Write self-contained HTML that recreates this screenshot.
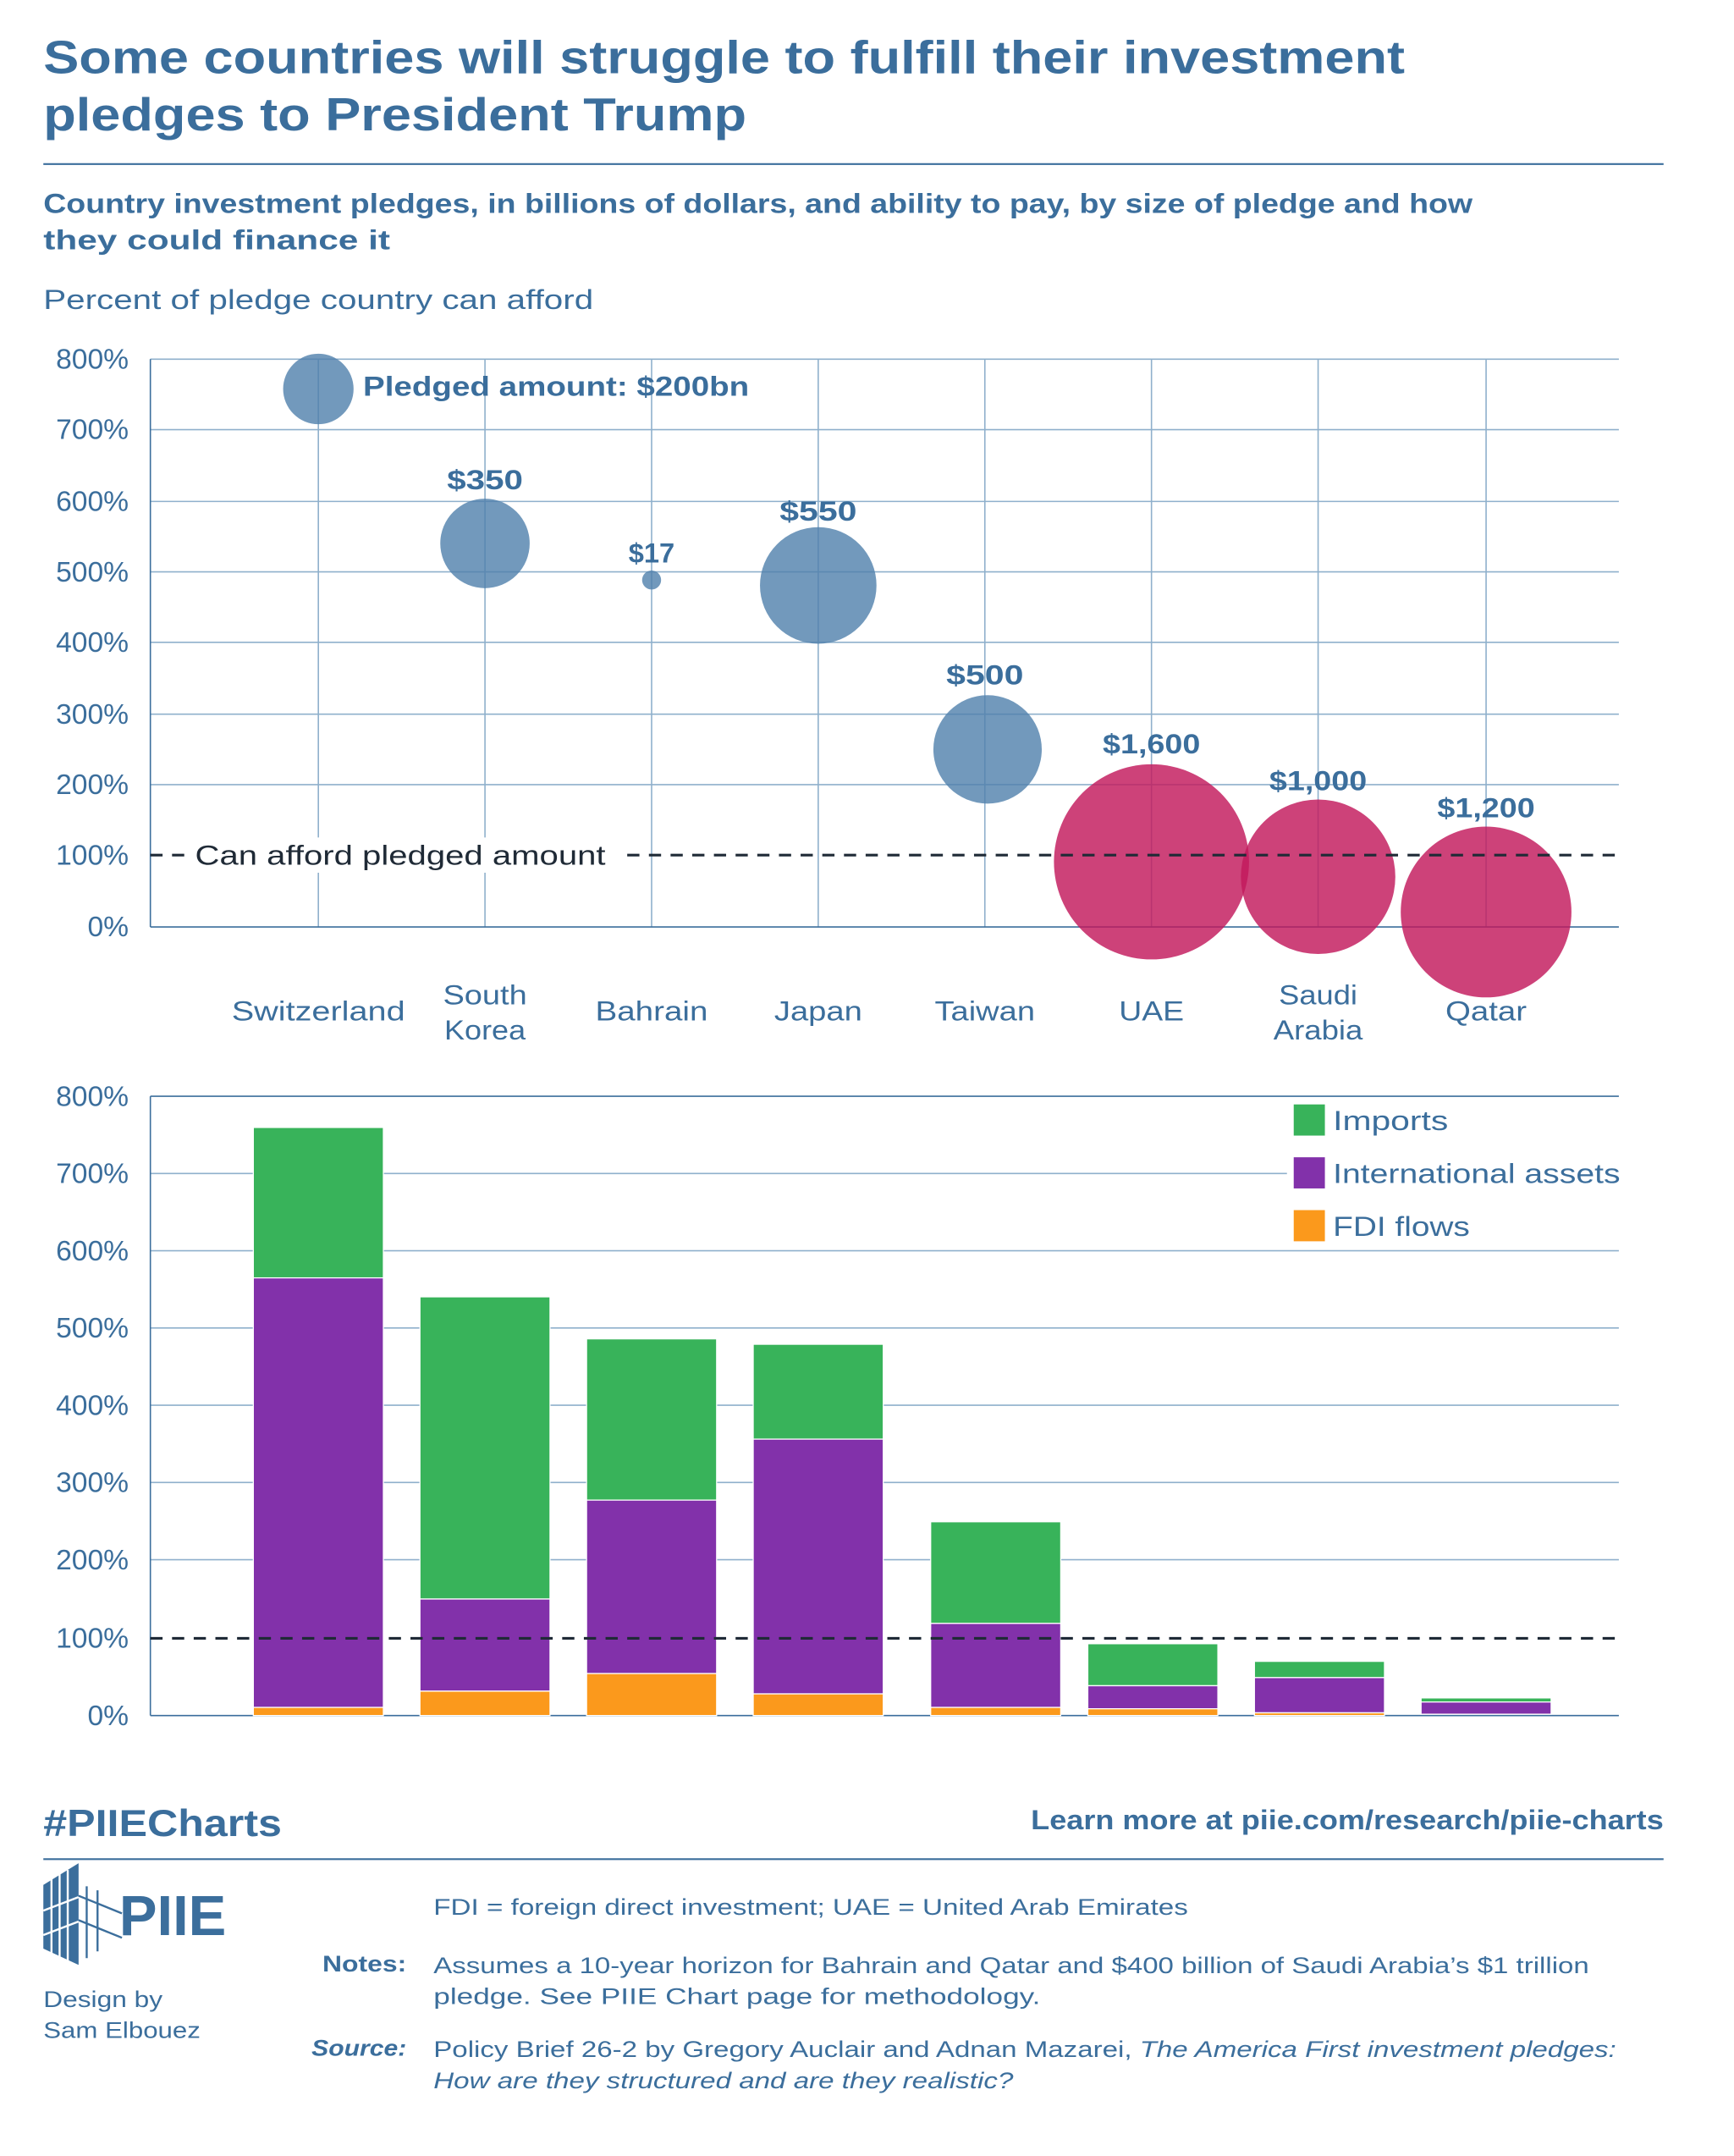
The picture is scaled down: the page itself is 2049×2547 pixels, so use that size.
<!DOCTYPE html>
<html><head><meta charset="utf-8"><style>
html,body{margin:0;padding:0;background:#fff}
svg{display:block}
text{font-family:"Liberation Sans",sans-serif;fill:#3b6e9c}
.b{font-weight:bold}
</style></head><body>
<svg width="2049" height="2547" viewBox="0 0 1280 1591" xmlns="http://www.w3.org/2000/svg">
<text x="32" y="54" class="b" font-size="34" textLength="1005" lengthAdjust="spacingAndGlyphs">Some countries will struggle to fulfill their investment</text>
<text x="32" y="96" class="b" font-size="34" textLength="519" lengthAdjust="spacingAndGlyphs">pledges to President Trump</text>
<line x1="32" y1="121" x2="1228" y2="121" stroke="#3b6e9c" stroke-width="1.3"/>
<text x="32" y="157" class="b" font-size="20" textLength="1055" lengthAdjust="spacingAndGlyphs">Country investment pledges, in billions of dollars, and ability to pay, by size of pledge and how</text>
<text x="32" y="184" class="b" font-size="20" textLength="256" lengthAdjust="spacingAndGlyphs">they could finance it</text>
<text x="32" y="228" font-size="20" textLength="406" lengthAdjust="spacingAndGlyphs">Percent of pledge country can afford</text>

<!-- top chart -->
<g stroke="#8fb0cc" stroke-width="1">
<line x1="111" y1="265" x2="1195" y2="265"/><line x1="111" y1="317" x2="1195" y2="317"/>
<line x1="111" y1="370" x2="1195" y2="370"/><line x1="111" y1="422" x2="1195" y2="422"/>
<line x1="111" y1="474" x2="1195" y2="474"/><line x1="111" y1="527" x2="1195" y2="527"/>
<line x1="111" y1="579" x2="1195" y2="579"/>
<line x1="235" y1="265" x2="235" y2="684"/><line x1="358" y1="265" x2="358" y2="684"/>
<line x1="481" y1="265" x2="481" y2="684"/><line x1="604" y1="265" x2="604" y2="684"/>
<line x1="727" y1="265" x2="727" y2="684"/><line x1="850" y1="265" x2="850" y2="684"/>
<line x1="973" y1="265" x2="973" y2="684"/><line x1="1097" y1="265" x2="1097" y2="684"/>
</g>
<line x1="111" y1="265" x2="111" y2="684" stroke="#3b6e9c"/>
<line x1="111" y1="684" x2="1195" y2="684" stroke="#3b6e9c"/>
<g font-size="21" text-anchor="end">
<text x="95" y="272">800%</text><text x="95" y="324">700%</text><text x="95" y="377">600%</text>
<text x="95" y="429">500%</text><text x="95" y="481">400%</text><text x="95" y="534">300%</text>
<text x="95" y="586">200%</text><text x="95" y="638">100%</text><text x="95" y="691">0%</text>
</g>
<g fill="#4f7fab" fill-opacity="0.8">
<circle cx="235" cy="287" r="26"/><circle cx="358" cy="401" r="33"/>
<circle cx="481" cy="428" r="7"/><circle cx="604" cy="432" r="43"/>
<circle cx="729" cy="553" r="40"/>
</g>
<g fill="#c2185b" fill-opacity="0.82">
<circle cx="850" cy="636" r="72"/><circle cx="973" cy="647" r="57"/><circle cx="1097" cy="673" r="63"/>
</g>
<line x1="111" y1="631" x2="1195" y2="631" stroke="#1f2a36" stroke-width="2" stroke-dasharray="9,7"/>
<rect x="138" y="618" width="320" height="26" fill="#fff"/>
<text x="144" y="638" font-size="20" style="fill:#1f2a36" textLength="303" lengthAdjust="spacingAndGlyphs">Can afford pledged amount</text>
<g class="b" font-size="20" text-anchor="middle">
<text x="268" y="292" text-anchor="start" textLength="285" lengthAdjust="spacingAndGlyphs">Pledged amount: $200bn</text>
<text x="358" y="361" textLength="56" lengthAdjust="spacingAndGlyphs">$350</text>
<text x="481" y="415" textLength="34" lengthAdjust="spacingAndGlyphs">$17</text>
<text x="604" y="384" textLength="57" lengthAdjust="spacingAndGlyphs">$550</text>
<text x="727" y="505" textLength="57" lengthAdjust="spacingAndGlyphs">$500</text>
<text x="850" y="556" textLength="72" lengthAdjust="spacingAndGlyphs">$1,600</text>
<text x="973" y="583" textLength="72" lengthAdjust="spacingAndGlyphs">$1,000</text>
<text x="1097" y="603" textLength="72" lengthAdjust="spacingAndGlyphs">$1,200</text>
</g>
<g font-size="20" text-anchor="middle">
<text x="235" y="753" textLength="128" lengthAdjust="spacingAndGlyphs">Switzerland</text>
<text x="358" y="741" textLength="62" lengthAdjust="spacingAndGlyphs">South</text>
<text x="358" y="767" textLength="60" lengthAdjust="spacingAndGlyphs">Korea</text>
<text x="481" y="753" textLength="83" lengthAdjust="spacingAndGlyphs">Bahrain</text>
<text x="604" y="753" textLength="65" lengthAdjust="spacingAndGlyphs">Japan</text>
<text x="727" y="753" textLength="74" lengthAdjust="spacingAndGlyphs">Taiwan</text>
<text x="850" y="753" textLength="48" lengthAdjust="spacingAndGlyphs">UAE</text>
<text x="973" y="741" textLength="58" lengthAdjust="spacingAndGlyphs">Saudi</text>
<text x="973" y="767" textLength="66" lengthAdjust="spacingAndGlyphs">Arabia</text>
<text x="1097" y="753" textLength="60" lengthAdjust="spacingAndGlyphs">Qatar</text>
</g>

<!-- bottom chart -->
<g stroke="#8fb0cc" stroke-width="1">
<line x1="111" y1="866" x2="1195" y2="866"/><line x1="111" y1="923" x2="1195" y2="923"/>
<line x1="111" y1="980" x2="1195" y2="980"/><line x1="111" y1="1037" x2="1195" y2="1037"/>
<line x1="111" y1="1094" x2="1195" y2="1094"/><line x1="111" y1="1151" x2="1195" y2="1151"/>
</g>
<line x1="111" y1="809" x2="1195" y2="809" stroke="#3b6e9c"/>
<line x1="111" y1="809" x2="111" y2="1266" stroke="#3b6e9c"/>
<line x1="111" y1="1266" x2="1195" y2="1266" stroke="#3b6e9c"/>
<g font-size="21" text-anchor="end">
<text x="95" y="816">800%</text><text x="95" y="873">700%</text><text x="95" y="930">600%</text>
<text x="95" y="987">500%</text><text x="95" y="1044">400%</text><text x="95" y="1101">300%</text>
<text x="95" y="1158">200%</text><text x="95" y="1216">100%</text><text x="95" y="1273">0%</text>
</g>
<g stroke="#fff" stroke-width="0.8">
<rect x="187" y="832" width="96" height="111" fill="#38b35a"/>
<rect x="187" y="943" width="96" height="317" fill="#8231aa"/>
<rect x="187" y="1260" width="96" height="6" fill="#fb991c"/>
<rect x="310" y="957" width="96" height="223" fill="#38b35a"/>
<rect x="310" y="1180" width="96" height="68" fill="#8231aa"/>
<rect x="310" y="1248" width="96" height="18" fill="#fb991c"/>
<rect x="433" y="988" width="96" height="119" fill="#38b35a"/>
<rect x="433" y="1107" width="96" height="128" fill="#8231aa"/>
<rect x="433" y="1235" width="96" height="31" fill="#fb991c"/>
<rect x="556" y="992" width="96" height="70" fill="#38b35a"/>
<rect x="556" y="1062" width="96" height="188" fill="#8231aa"/>
<rect x="556" y="1250" width="96" height="16" fill="#fb991c"/>
<rect x="687" y="1123" width="96" height="75" fill="#38b35a"/>
<rect x="687" y="1198" width="96" height="62" fill="#8231aa"/>
<rect x="687" y="1260" width="96" height="6" fill="#fb991c"/>
<rect x="803" y="1213" width="96" height="31" fill="#38b35a"/>
<rect x="803" y="1244" width="96" height="17" fill="#8231aa"/>
<rect x="803" y="1261" width="96" height="5" fill="#fb991c"/>
<rect x="926" y="1226" width="96" height="12" fill="#38b35a"/>
<rect x="926" y="1238" width="96" height="26" fill="#8231aa"/>
<rect x="926" y="1264" width="96" height="2" fill="#fb991c"/>
<rect x="1049" y="1253" width="96" height="3" fill="#38b35a"/>
<rect x="1049" y="1256" width="96" height="9" fill="#8231aa"/>
</g>
<line x1="111" y1="1209" x2="1195" y2="1209" stroke="#1f2a36" stroke-width="2" stroke-dasharray="9,7"/>
<rect x="950" y="812" width="250" height="110" fill="#fff"/>
<rect x="955" y="815" width="23" height="23" fill="#38b35a"/>
<rect x="955" y="854" width="23" height="23" fill="#8231aa"/>
<rect x="955" y="893" width="23" height="23" fill="#fb991c"/>
<g font-size="20">
<text x="984" y="834" textLength="85" lengthAdjust="spacingAndGlyphs">Imports</text>
<text x="984" y="873" textLength="212" lengthAdjust="spacingAndGlyphs">International assets</text>
<text x="984" y="912" textLength="101" lengthAdjust="spacingAndGlyphs">FDI flows</text>
</g>

<!-- footer -->
<text x="32" y="1355" class="b" font-size="28" textLength="176" lengthAdjust="spacingAndGlyphs">#PIIECharts</text>
<text x="1228" y="1350" class="b" font-size="20" text-anchor="end" textLength="467" lengthAdjust="spacingAndGlyphs">Learn more at piie.com/research/piie-charts</text>
<line x1="32" y1="1372" x2="1228" y2="1372" stroke="#3b6e9c" stroke-width="1.3"/>
<polygon points="32,1391 58,1375 58,1450 32,1438" fill="#3b6e9c"/>
<g stroke="#fff" stroke-width="1.5">
<line x1="38" y1="1385" x2="38" y2="1445"/><line x1="44" y1="1382" x2="44" y2="1448"/><line x1="50" y1="1380" x2="50" y2="1450"/>
<line x1="32" y1="1410" x2="58" y2="1400"/><line x1="32" y1="1428" x2="58" y2="1418"/>
</g>
<g stroke="#3b6e9c" stroke-width="1.5">
<line x1="64" y1="1392" x2="64" y2="1445"/><line x1="72" y1="1395" x2="72" y2="1440"/>
<line x1="58" y1="1399" x2="90" y2="1412"/><line x1="58" y1="1417" x2="90" y2="1430"/>
</g>
<text x="88" y="1428" class="b" font-size="42" textLength="79" lengthAdjust="spacingAndGlyphs">PIIE</text>
<text x="32" y="1481" font-size="17" textLength="88" lengthAdjust="spacingAndGlyphs">Design by</text>
<text x="32" y="1504" font-size="17" textLength="116" lengthAdjust="spacingAndGlyphs">Sam Elbouez</text>
<g font-size="17">
<text x="320" y="1413" textLength="557" lengthAdjust="spacingAndGlyphs">FDI = foreign direct investment; UAE = United Arab Emirates</text>
<text x="300" y="1455" class="b" text-anchor="end" textLength="62" lengthAdjust="spacingAndGlyphs">Notes:</text>
<text x="320" y="1456" textLength="853" lengthAdjust="spacingAndGlyphs">Assumes a 10-year horizon for Bahrain and Qatar and $400 billion of Saudi Arabia’s $1 trillion</text>
<text x="320" y="1479" textLength="448" lengthAdjust="spacingAndGlyphs">pledge. See PIIE Chart page for methodology.</text>
<text x="300" y="1517" class="b" font-style="italic" text-anchor="end" textLength="70" lengthAdjust="spacingAndGlyphs">Source:</text>
<text x="320" y="1518" textLength="873" lengthAdjust="spacingAndGlyphs">Policy Brief 26-2 by Gregory Auclair and Adnan Mazarei, <tspan font-style="italic">The America First investment pledges:</tspan></text>
<text x="320" y="1541" font-style="italic" textLength="428" lengthAdjust="spacingAndGlyphs">How are they structured and are they realistic?</text>
</g>
</svg>
</body></html>
